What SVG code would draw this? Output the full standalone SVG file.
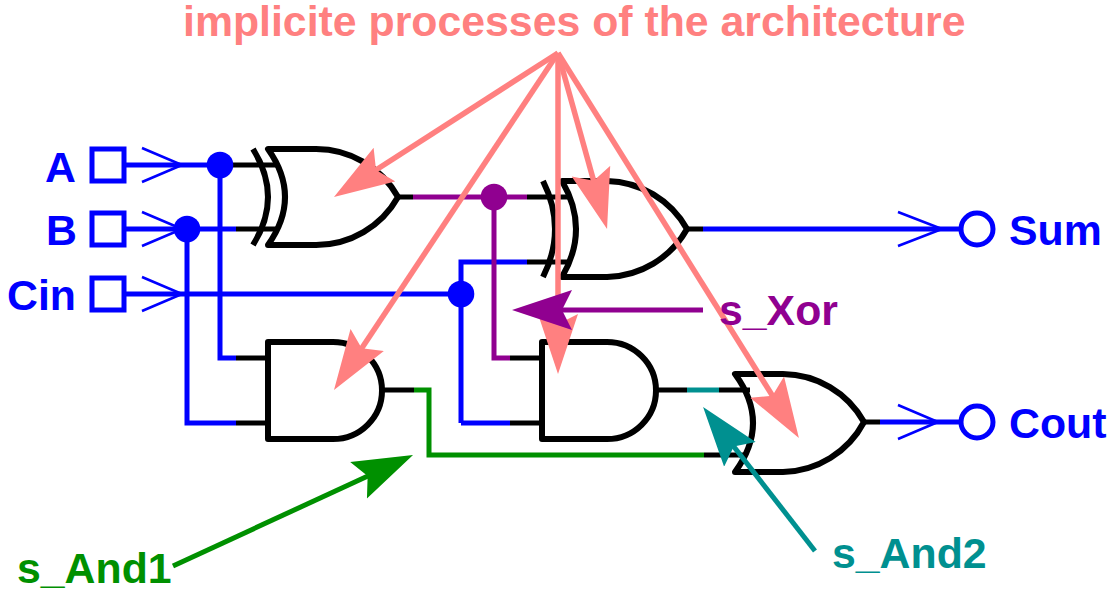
<svg xmlns="http://www.w3.org/2000/svg" width="1112" height="599" viewBox="0 0 1112 599">
<style>
text{font-family:"Liberation Sans",Arial,sans-serif;font-weight:700;font-size:42.800px}
.gate{fill:none;stroke:#000;stroke-width:6;stroke-linejoin:round;stroke-linecap:butt}
.w{fill:none;stroke-width:5;stroke-linejoin:miter}
.k{stroke:#000}.b{stroke:#0000ff}.p{stroke:#900090}.g{stroke:#009000}.t{stroke:#009090}
.open{fill:none;stroke:#0000ff;stroke-width:2.600}
.pin{fill:none;stroke:#0000ff;stroke-width:5}
.pink{fill:none;stroke:#ff8080;stroke-width:5.500;marker-end:url(#hp)}
</style>
<defs>
<marker id="hp" markerUnits="userSpaceOnUse" viewBox="0 -21 62 42" markerWidth="62" markerHeight="42" refX="30" refY="0" orient="auto"><path d="M60,0L0,-20L10,0L0,20Z" fill="#ff8080"/></marker>
<marker id="hv" markerUnits="userSpaceOnUse" viewBox="0 -21 62 42" markerWidth="62" markerHeight="42" refX="30" refY="0" orient="auto"><path d="M60,0L0,-20L10,0L0,20Z" fill="#900090"/></marker>
<marker id="hg" markerUnits="userSpaceOnUse" viewBox="0 -21 62 42" markerWidth="62" markerHeight="42" refX="30" refY="0" orient="auto"><path d="M60,0L0,-20L10,0L0,20Z" fill="#009000"/></marker>
<marker id="ht" markerUnits="userSpaceOnUse" viewBox="0 -21 62 42" markerWidth="62" markerHeight="42" refX="30" refY="0" orient="auto"><path d="M60,0L0,-20L10,0L0,20Z" fill="#009090"/></marker>
</defs>
<g id="wires">
<path class="w k" d="M220,165H276M236,229H276M236,358H268M236,423H268M382,390H414M398,197H413M510,358H542M510,423H542M527,197H570M527,262H570M656,390H687M719,390H750M704,455H745M687,229H703M864,422H880"/>
<path class="w b" d="M125,165H220M125,229H236M125,294H461M220,165V358H236M187,229V423H236M461,423H510M461,294V423M527,262H461V294M703,229H960M880,422H960"/>
<path class="w p" d="M413,197H527M494,197V358H510"/>
<path class="w g" d="M414,390H429V455H704"/>
<path class="w t" d="M687,390H719"/>
<path class="open" d="M142,148L182,165L142,182M142,212L182,229L142,246M142,277L182,294L142,311M898,212L942,229L898,246M898,405L938,422L898,439"/>
</g>
<g id="xor1" class="gate"><path d="M253,149Q283,197 253,245"/><path d="M268,149H316A94,94 0 0 1 398,197A94,94 0 0 1 316,245H268Q302,197 268,149Z"/></g>
<g id="xor2" class="gate"><path d="M543,181Q567,229 543,277"/><path d="M562,181H607A94,94 0 0 1 687,229A94,94 0 0 1 607,277H562Q590,229 562,181Z"/></g>
<g id="and1" class="gate"><path d="M268,342H333A49,48.500 0 0 1 333,439H268Z"/></g>
<g id="and2" class="gate"><path d="M542,342H607A49,48.500 0 0 1 607,439H542Z"/></g>
<g id="or1" class="gate"><path d="M735,374H783A94,94 0 0 1 864,422A94,94 0 0 1 783,472H735Q771,423 735,374Z"/></g>
<g id="dots">
<circle cx="220" cy="165" r="13.300" fill="#0000ff"/>
<circle cx="187" cy="229" r="13.300" fill="#0000ff"/>
<circle cx="461" cy="294" r="13.300" fill="#0000ff"/>
<circle cx="494" cy="197" r="13.300" fill="#900090"/>
</g>
<g id="pin-a"><rect class="pin" x="92" y="149" width="32" height="32"/><text x="45" y="182" fill="#0000ff">A</text></g>
<g id="pin-b"><rect class="pin" x="92" y="213" width="32" height="32"/><text x="46" y="245" fill="#0000ff">B</text></g>
<g id="pin-cin"><rect class="pin" x="92" y="278" width="32" height="32"/><text x="7" y="310" fill="#0000ff">Cin</text></g>
<g id="pin-sum"><circle class="pin" cx="977" cy="229" r="16"/><text x="1009" y="245" fill="#0000ff">Sum</text></g>
<g id="pin-cout"><circle class="pin" cx="977" cy="422" r="16"/><text x="1009" y="438" fill="#0000ff">Cout</text></g>
<g id="annotation-arrows">
<path class="pink" d="M558,53L359.200,180.800"/>
<path class="pink" d="M558,53L350.600,365"/>
<path class="pink" d="M558,53L599,200.100"/>
<path class="pink" d="M558,53L558,344"/>
<path class="pink" d="M558,53L783,412.600"/>
<path d="M703,310H542" fill="none" stroke="#900090" stroke-width="5" marker-end="url(#hv)"/>
<path d="M173,566L385.800,467.700" fill="none" stroke="#009000" stroke-width="5" marker-end="url(#hg)"/>
<path d="M815,551L721.500,430.700" fill="none" stroke="#009090" stroke-width="5" marker-end="url(#ht)"/>
</g>
<g id="labels">
<text x="183" y="36" fill="#ff8080">implicite processes of the architecture</text>
<text x="719" y="325" fill="#900090">s_Xor</text>
<text x="17" y="583" fill="#009000">s_And1</text>
<text x="832" y="568" fill="#009090">s_And2</text>
</g>
</svg>
